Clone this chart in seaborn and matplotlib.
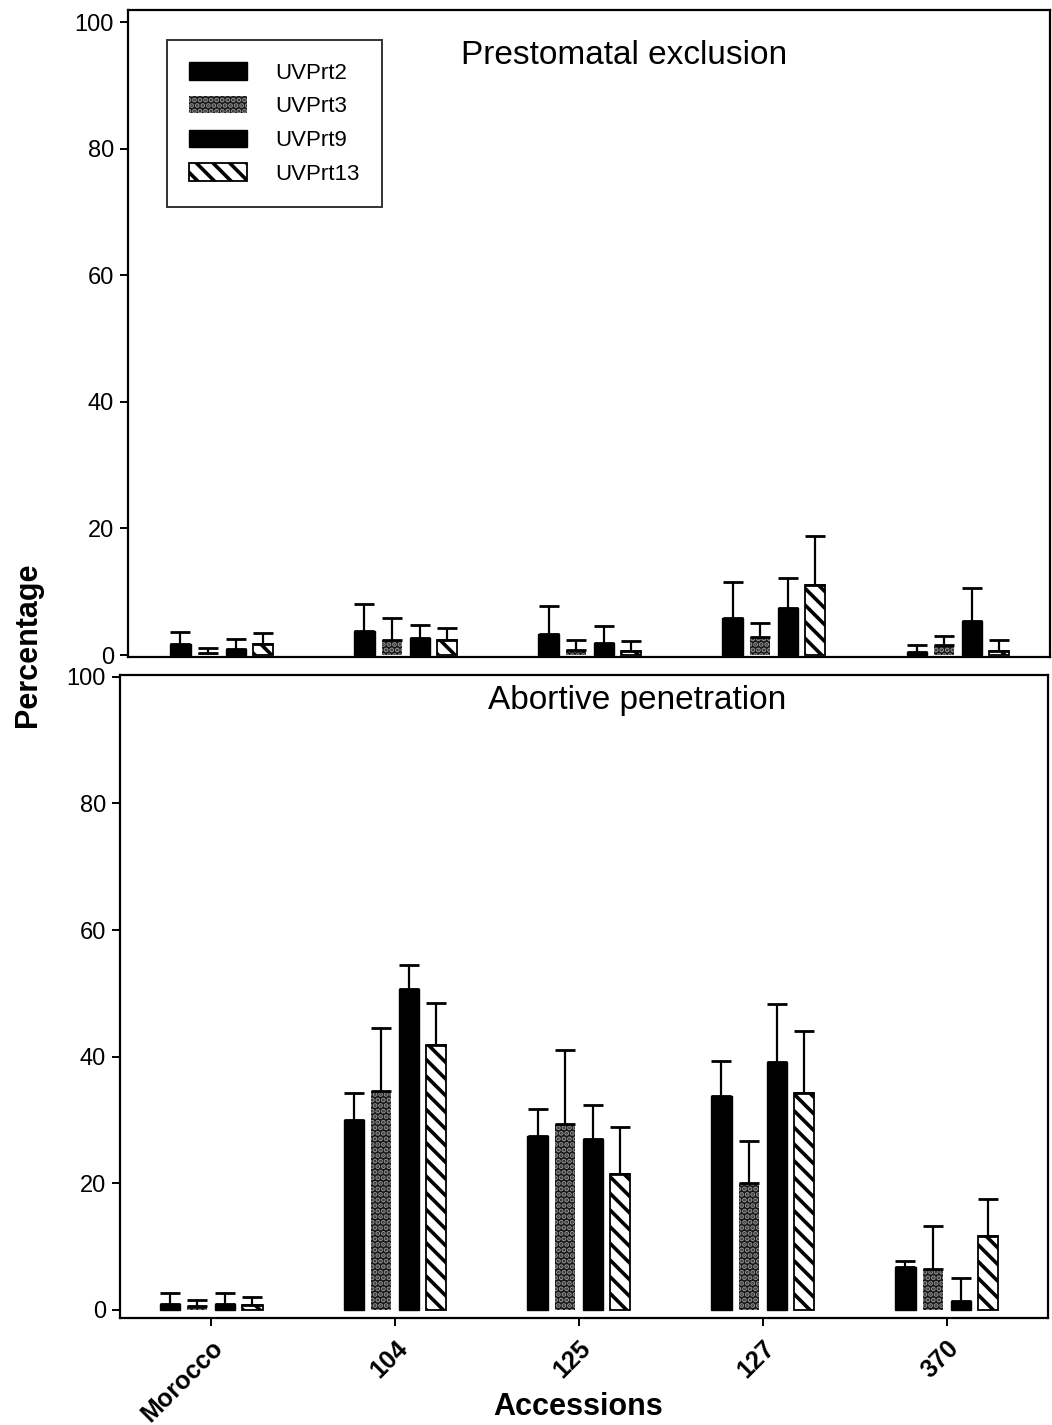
import numpy as np
import pandas as pd
import matplotlib
matplotlib.use("Agg")
import matplotlib.pyplot as plt
import matplotlib.patches as mpatches
import seaborn as sns

# ---------------- data ----------------
accessions = ["Morocco", "104", "125", "127", "370"]
strains = ["UVPrt2", "UVPrt3", "UVPrt9", "UVPrt13"]

pre_uvprt2 = [1.7, 3.8, 3.3, 5.8, 0.5]
pre_uvprt3 = [0.3, 2.4, 0.8, 2.8, 1.6]
pre_uvprt9 = [0.9, 2.7, 1.9, 7.4, 5.4]
pre_uvprt13 = [1.8, 2.4, 0.7, 11.0, 0.6]
pre_uvprt2_err = [1.9, 4.2, 4.4, 5.7, 1.1]
pre_uvprt3_err = [0.9, 3.5, 1.6, 2.3, 1.4]
pre_uvprt9_err = [1.6, 2.0, 2.7, 4.8, 5.2]
pre_uvprt13_err = [1.7, 1.9, 1.6, 7.8, 1.8]

abo_uvprt2 = [0.9, 30.0, 27.4, 33.7, 6.7]
abo_uvprt3 = [0.6, 34.6, 29.4, 20.1, 6.4]
abo_uvprt9 = [0.9, 50.7, 27.0, 39.2, 1.4]
abo_uvprt13 = [0.8, 41.8, 21.4, 34.2, 11.6]
abo_uvprt2_err = [1.8, 4.3, 4.3, 5.6, 1.0]
abo_uvprt3_err = [1.0, 9.9, 11.7, 6.5, 6.8]
abo_uvprt9_err = [1.7, 3.7, 5.3, 9.1, 3.6]
abo_uvprt13_err = [1.2, 6.7, 7.5, 9.9, 5.9]

yticks = [0, 20, 40, 60, 80, 100]


def long_df(vals, errs):
    rows = []
    for s, v, e in zip(strains, vals, errs):
        for a, vv, ee in zip(accessions, v, e):
            rows.append({"Accession": a, "Strain": s, "Value": vv, "Err": ee})
    return pd.DataFrame(rows)


pre_df = long_df([pre_uvprt2, pre_uvprt3, pre_uvprt9, pre_uvprt13],
                 [pre_uvprt2_err, pre_uvprt3_err, pre_uvprt9_err, pre_uvprt13_err])
abo_df = long_df([abo_uvprt2, abo_uvprt3, abo_uvprt9, abo_uvprt13],
                 [abo_uvprt2_err, abo_uvprt3_err, abo_uvprt9_err, abo_uvprt13_err])

# ---------------- style ----------------
sns.set_theme(style="ticks")
plt.rcParams["font.family"] = ["Liberation Sans", "DejaVu Sans"]
plt.rcParams["hatch.linewidth"] = 2.6
plt.rcParams["axes.linewidth"] = 1.6
for k in ["text.color", "xtick.color", "ytick.color", "axes.labelcolor", "axes.edgecolor"]:
    plt.rcParams[k] = "black"

styles = {
    "UVPrt2": dict(face="#000000", edge="#000000", hatch=None, lw=1.0),
    "UVPrt3": dict(face="#151515", edge="#8c8c8c", hatch="...", lw=0.0),
    "UVPrt9": dict(face="#000000", edge="#000000", hatch=None, lw=1.0),
    "UVPrt13": dict(face="#ffffff", edge="#000000", hatch="\\\\", lw=1.3),
}

W, H = 1052, 1425
fig = plt.figure(figsize=(W / 100, H / 100), dpi=100)

ax_top = fig.add_axes([128 / W, 1 - 657 / H, (1050 - 128) / W, (657 - 10) / H])
ax_bot = fig.add_axes([120 / W, 1 - 1318 / H, (1048 - 120) / W, (1318 - 675) / H])


def draw(ax, df):
    sns.barplot(data=df, x="Accession", y="Value", hue="Strain",
                order=accessions, hue_order=strains,
                palette=["black"] * 4, width=0.6, gap=0.27,
                errorbar=None, legend=False, ax=ax)
    for s, cont in zip(strains, ax.containers):
        st = styles[s]
        errs = df[df["Strain"] == s].set_index("Accession").loc[accessions, "Err"].values
        xs, ys = [], []
        for bar in cont:
            bar.set_facecolor(st["face"])
            bar.set_edgecolor(st["edge"])
            bar.set_linewidth(st["lw"])
            if st["hatch"]:
                bar.set_hatch(st["hatch"])
            xs.append(bar.get_x() + bar.get_width() / 2)
            ys.append(bar.get_height())
        ax.errorbar(xs, ys, yerr=[np.zeros(len(errs)), errs], fmt="none",
                    ecolor="black", elinewidth=1.6, capsize=7.2, capthick=2.0,
                    zorder=1)
    for sp in ax.spines.values():
        sp.set_visible(True)
        sp.set_color("black")
        sp.set_linewidth(1.6)
    ax.set_yticks(yticks)
    ax.set_yticklabels([str(t) for t in yticks], fontsize=17)
    ax.tick_params(axis="y", direction="out", length=6, width=1.4, pad=4, colors="black")
    ax.set_xlabel("")
    ax.set_ylabel("")


draw(ax_top, pre_df)
draw(ax_bot, abo_df)

ax_top.set_ylim(-0.3, 101.9)
ax_top.set_xlim(-0.51, 4.5)
ax_top.set_xticks([])
ax_top.text(0.538, 0.93, "Prestomatal exclusion", transform=ax_top.transAxes,
            ha="center", va="center", fontsize=24, color="black")

ax_bot.set_ylim(-1.3, 100.3)
ax_bot.set_xlim(-0.495, 4.55)
ax_bot.tick_params(axis="x", direction="out", length=6, width=1.4, pad=7, colors="black")
ax_bot.set_xticks(range(len(accessions)))
ax_bot.set_xticklabels(accessions, rotation=45, ha="right", rotation_mode="anchor",
                       fontsize=18, fontweight="bold")
ax_bot.text(0.557, 0.961, "Abortive penetration", transform=ax_bot.transAxes,
            ha="center", va="center", fontsize=24, color="black")

# legend
handles = [mpatches.Patch(facecolor=styles[s]["face"], edgecolor=styles[s]["edge"],
                          hatch=styles[s]["hatch"], linewidth=styles[s]["lw"], label=s)
           for s in strains]
leg = ax_top.legend(handles=handles, loc="upper left", bbox_to_anchor=(0.042, 0.954),
                    borderaxespad=0, fontsize=16, frameon=True, fancybox=False,
                    edgecolor="black", handlelength=2.6, handleheight=0.85,
                    handletextpad=1.3, labelspacing=0.55, borderpad=1.0)
leg.get_frame().set_linewidth(1.4)
for t in leg.get_texts():
    t.set_color("black")

fig.text(28 / W, 1 - 645 / H, "Percentage", rotation=90, ha="center", va="center",
         fontsize=22, fontweight="bold", color="black")
fig.text(578 / W, 1 - 1407 / H, "Accessions", ha="center", va="center",
         fontsize=22, fontweight="bold", color="black")

fig.savefig("out.png", dpi=100, facecolor="white")
